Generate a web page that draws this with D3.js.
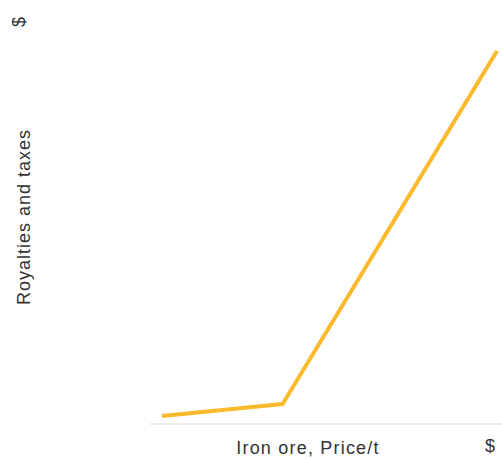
<!DOCTYPE html>
<html>
<head>
<meta charset="utf-8">
<script src="https://cdn.jsdelivr.net/npm/d3@7"></script>
<style>
  html, body { margin: 0; padding: 0; background: #fff; }
  svg text { font-family: "Liberation Sans", Arial, sans-serif; fill: #333; }
</style>
</head>
<body>
<svg id="chart" width="502" height="459"></svg>
<script>
// Iron ore price (index) vs. royalties and taxes (index)
const price = [0, 36, 100];
const royalties = [0, 3.3, 100];
const xTitle = "Iron ore, Price/t";
const yTitle = "Royalties and taxes";
const unit = "$";

const svg = d3.select("#chart");
const W = 502;

const x = d3.scaleLinear().domain([0, 100]).range([162, 497]);
const y = d3.scaleLinear().domain([0, 100]).range([416, 51]);

// baseline
svg.append("line")
  .attr("x1", 150).attr("x2", W)
  .attr("y1", 424).attr("y2", 424)
  .attr("stroke", "#e6e6e6").attr("stroke-width", 1.5);

// series line
const line = d3.line().x((d, i) => x(price[i])).y(d => y(d));
svg.append("path")
  .datum(royalties)
  .attr("d", line)
  .attr("fill", "none")
  .attr("stroke", "#fbb92c")
  .attr("stroke-width", 4)
  .attr("stroke-linejoin", "round");

// axis titles
svg.append("text")
  .attr("x", 308).attr("y", 454)
  .attr("text-anchor", "middle")
  .attr("font-size", 18)
  .attr("letter-spacing", 1.2)
  .text(xTitle);

svg.append("text")
  .attr("x", 490).attr("y", 452)
  .attr("text-anchor", "middle")
  .attr("font-size", 18)
  .text(unit);

svg.append("text")
  .attr("transform", "translate(30,217) rotate(-90)")
  .attr("text-anchor", "middle")
  .attr("font-size", 18)
  .attr("letter-spacing", 1)
  .text(yTitle);

svg.append("text")
  .attr("transform", "translate(25,22) rotate(-90)")
  .attr("text-anchor", "middle")
  .attr("font-size", 18)
  .text(unit);
</script>
</body>
</html>
